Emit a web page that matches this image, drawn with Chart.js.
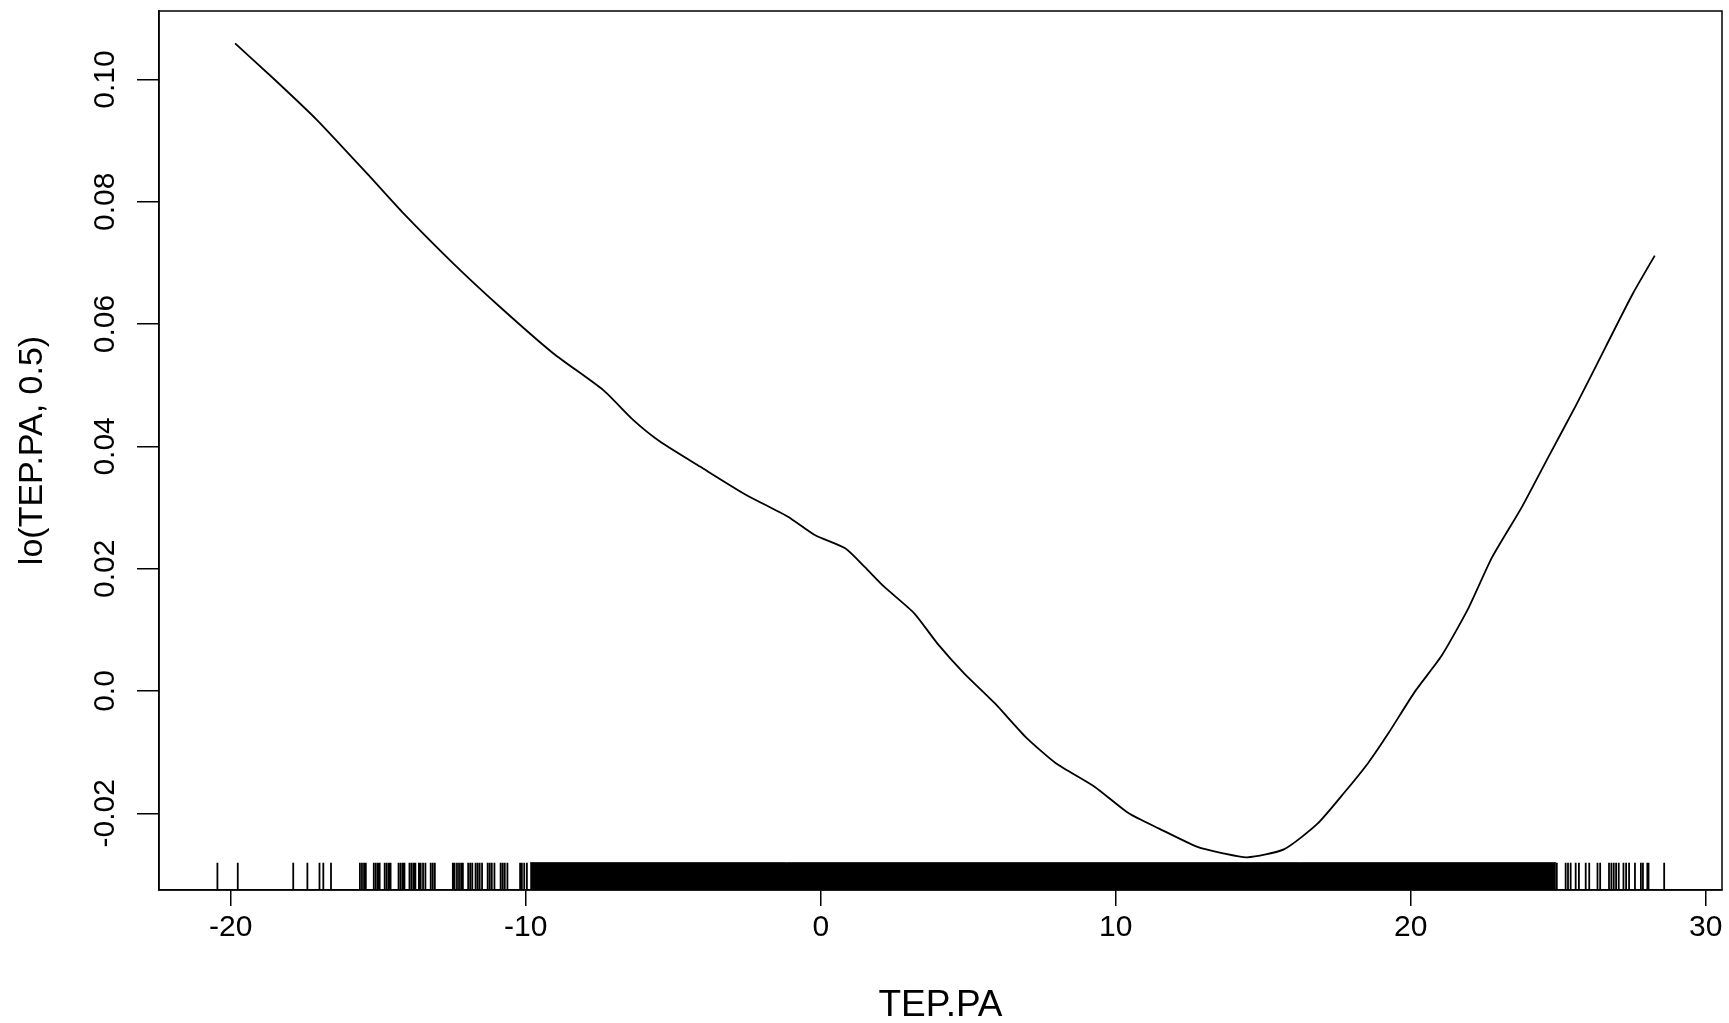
<!DOCTYPE html>
<html>
<head>
<meta charset="utf-8">
<script src="https://cdn.jsdelivr.net/npm/chart.js@4.4.0/dist/chart.umd.min.js"></script>
<style>
  html, body { margin: 0; padding: 0; background: #fff; }
  #wrap { width: 1729px; height: 1023px; }
</style>
</head>
<body>
<div id="wrap"><canvas id="chart"></canvas></div>
<script>
// tick values and labels
const xTickValues = [-20, -10, 0, 10, 20, 30];
const yTickValues = [-0.02, 0, 0.02, 0.04, 0.06, 0.08, 0.10];
const yTickLabels = ['-0.02', '0.0', '0.02', '0.04', '0.06', '0.08', '0.10'];

// loess curve
const tepX = [-19.85, -18.56, -17.08, -15.28, -14.20, -12.45, -10.87, -9.06, -7.37, -6.35,
  -5.45, -4.09, -2.54, -1.11, -0.20, 0.84, 1.49, 2.14, 3.17, 3.95,
  4.86, 5.90, 6.94, 7.97, 9.27, 10.44, 11.47, 12.77, 13.60, 14.45,
  15.70, 16.84, 17.75, 18.55, 19.23, 20.14, 21.05, 21.96, 22.75, 23.78,
  24.69, 25.60, 26.62, 27.53, 28.27];
const loY = [0.1059, 0.1002, 0.0934, 0.0841, 0.0784, 0.0699, 0.0628, 0.0552, 0.0492, 0.0443,
  0.0408, 0.0367, 0.0321, 0.0285, 0.0255, 0.0233, 0.0203, 0.0171, 0.0127, 0.0078,
  0.0029, -0.0020, -0.0075, -0.0118, -0.0156, -0.0200, -0.0225, -0.0255, -0.0265, -0.0272,
  -0.0259, -0.0217, -0.0166, -0.0118, -0.0070, -0.0001, 0.0058, 0.0136, 0.0218, 0.0302,
  0.0385, 0.0467, 0.0564, 0.0650, 0.0712];

// rug: single observations at the tails, and the solid run in the middle
const rugLeft = [-20.45, -19.76, -17.88, -17.40, -16.99, -16.86, -16.60,
  -15.62, -15.55, -15.48, -15.42, -15.15, -15.08, -15.01, -14.95,
  -14.78, -14.71, -14.64, -14.58, -14.31, -14.24, -14.17, -14.11,
  -13.94, -13.87, -13.80, -13.74, -13.62, -13.56, -13.48, -13.40,
  -13.22, -13.15, -13.08, -12.47, -12.41, -12.33, -12.26, -12.19, -12.13,
  -11.95, -11.88, -11.81, -11.70, -11.63, -11.56, -11.48,
  -11.29, -11.22, -11.15, -11.06, -10.85, -10.78, -10.71, -10.62,
  -10.19, -10.13, -10.05, -9.96];
const rugRight = [24.95, 25.25, 25.33, 25.42, 25.59, 25.70, 25.93, 26.05, 26.33, 26.42,
  26.72, 26.80, 26.88, 26.96, 27.05, 27.21, 27.30, 27.40, 27.60, 27.80, 27.87,
  28.02, 28.06, 28.59];
const rugDense = [-9.85, 24.92];

const X_MIN = -22.43, X_MAX = 30.55;
const Y_MIN = -0.03254, Y_MAX = 0.1112;
const RUG_TOP = -0.02808;

const curve = tepX.map((x, i) => ({x: x, y: loY[i]}));
const rugPts = [];
rugLeft.concat(rugRight).forEach(function (x) {
  rugPts.push({x: x, y: Y_MIN}, {x: x, y: RUG_TOP}, {x: x, y: null});
});
const densePts = [{x: rugDense[0], y: RUG_TOP}, {x: rugDense[1], y: RUG_TOP}];

const FONT = "'Liberation Sans', Arial, sans-serif";

const framePlugin = {
  id: 'frame',
  afterDraw(chart) {
    const ctx = chart.ctx;
    const a = chart.chartArea;
    ctx.save();
    ctx.strokeStyle = '#000';
    ctx.lineWidth = 1.5;
    ctx.strokeRect(a.left, a.top, a.right - a.left, a.bottom - a.top);
    // rotated y tick labels, like R's las=0
    const ys = chart.scales.y;
    ctx.fillStyle = '#000';
    ctx.font = '30px ' + FONT;
    ctx.textAlign = 'center';
    ctx.textBaseline = 'middle';
    yTickValues.forEach(function (v, i) {
      ctx.save();
      ctx.translate(106, ys.getPixelForValue(v));
      ctx.rotate(-Math.PI / 2);
      ctx.fillText(yTickLabels[i], 0, 0);
      ctx.restore();
    });
    ctx.restore();
  }
};

new Chart(document.getElementById('chart'), {
  type: 'scatter',
  data: {
    datasets: [
      {
        data: curve,
        showLine: true,
        pointRadius: 0,
        borderColor: '#000',
        borderWidth: 1.8,
        tension: 0.2
      },
      {
        data: rugPts,
        showLine: true,
        spanGaps: false,
        pointRadius: 0,
        borderColor: '#000',
        borderWidth: 1.8
      },
      {
        data: densePts,
        showLine: true,
        pointRadius: 0,
        borderColor: '#000',
        borderWidth: 1,
        backgroundColor: '#000',
        fill: 'start'
      }
    ]
  },
  options: {
    responsive: true,
    maintainAspectRatio: false,
    animation: false,
    layout: { padding: { top: 11, right: 7, left: 0, bottom: 0 } },
    plugins: { legend: { display: false }, tooltip: { enabled: false } },
    scales: {
      x: {
        type: 'linear',
        min: X_MIN,
        max: X_MAX,
        afterBuildTicks: function (s) { s.ticks = xTickValues.map(v => ({value: v})); },
        afterFit: function (s) { s.height = 133; },
        border: { display: true, color: '#000', width: 1.5 },
        grid: { drawOnChartArea: false, drawTicks: true, tickLength: 16, color: '#000', lineWidth: 1.5 },
        ticks: {
          color: '#000',
          font: { family: FONT, size: 30 },
          padding: 4,
          maxRotation: 0,
          autoSkip: false,
          callback: v => String(v)
        },
        title: {
          display: true,
          text: 'TEP.PA',
          color: '#000',
          font: { family: FONT, size: 37, lineHeight: 1 },
          padding: { top: 0, bottom: -1 }
        }
      },
      y: {
        type: 'linear',
        min: Y_MIN,
        max: Y_MAX,
        afterBuildTicks: function (s) { s.ticks = yTickValues.map(v => ({value: v})); },
        afterFit: function (s) { s.width = 159; },
        border: { display: true, color: '#000', width: 1.5 },
        grid: { drawOnChartArea: false, drawTicks: true, tickLength: 22, color: '#000', lineWidth: 1.5 },
        ticks: { display: false },
        title: {
          display: true,
          text: 'lo(TEP.PA, 0.5)',
          color: '#000',
          font: { family: FONT, size: 34, lineHeight: 1 },
          padding: { top: 16, bottom: 0 }
        }
      }
    }
  },
  plugins: [framePlugin]
});
</script>
</body>
</html>
